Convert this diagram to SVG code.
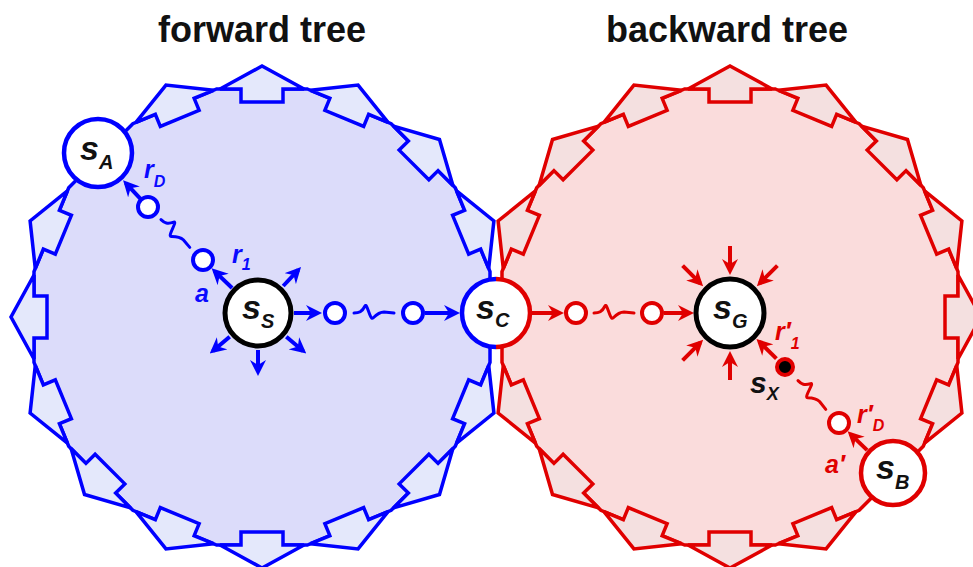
<svg xmlns="http://www.w3.org/2000/svg" xmlns:xlink="http://www.w3.org/1999/xlink" width="973" height="567" viewBox="0 0 973 567">
<defs>
<style>
.t{font-family:"Liberation Sans",Arial,sans-serif;font-weight:bold;font-size:36px;fill:#111;text-anchor:middle}
.nl{font-family:"Liberation Sans",Arial,sans-serif;font-weight:bold;font-style:italic;font-size:34px;fill:#111}
.ns{font-size:20px}
.bl{font-family:"Liberation Sans",Arial,sans-serif;font-weight:bold;font-style:italic;font-size:25px;fill:#0a0aff}
.rl{font-family:"Liberation Sans",Arial,sans-serif;font-weight:bold;font-style:italic;font-size:25px;fill:#e00000}
.sub{font-size:16px}
.bpoly{fill:#dcdcfa;stroke:#0000ff;stroke-width:3.5}
.rpoly{fill:#fadcdc;stroke:#e00000;stroke-width:3.5}
.barr{fill:#e4e8fb;stroke:#0000ff;stroke-width:3.5}
.rarr{fill:#f4e0e0;stroke:#e00000;stroke-width:3.5}
.bc{fill:none;stroke:#0000ff;stroke-width:4;marker-end:url(#mb)}
.rc{fill:none;stroke:#e00000;stroke-width:4;marker-end:url(#mr)}
.bs{fill:none;stroke:#0000ff;stroke-width:3;stroke-linecap:round;stroke-linejoin:round}
.rs{fill:none;stroke:#e00000;stroke-width:3;stroke-linecap:round;stroke-linejoin:round}
.cb{fill:#fff;stroke:#0000ff;stroke-width:4}
.cr{fill:#fff;stroke:#e00000;stroke-width:4}
.big-b{fill:#fff;stroke:#0000ff;stroke-width:4.5}
.big-r{fill:#fff;stroke:#e00000;stroke-width:4.5}
.big-k{fill:#fff;stroke:#000;stroke-width:5}
</style>
<polygon id="ar" points="-42,-228 0,-251 42,-228 21,-228 21,-215 -21,-215 -21,-228"/>
<path id="sq" d="M0,0 C5,0 8,-1 11,-7 C13,-11 16,8 19,5 C22,2 25,-1 30,-1 L40,0"/>
<marker id="mb" viewBox="0 0 16 16" markerWidth="16" markerHeight="16" refX="12" refY="8" orient="auto" markerUnits="userSpaceOnUse"><path d="M0,0 L16,8 L0,16 L5,8 z" fill="#0000ff"/></marker>
<marker id="mr" viewBox="0 0 16 16" markerWidth="16" markerHeight="16" refX="12" refY="8" orient="auto" markerUnits="userSpaceOnUse"><path d="M0,0 L16,8 L0,16 L5,8 z" fill="#e00000"/></marker>
</defs>

<text class="t" x="262" y="42">forward tree</text>
<text class="t" x="727" y="42">backward tree</text>

<g id="forward-region" transform="translate(262,317)">
<polygon class="bpoly" points="45.35,-228 129.15,-193.29 193.29,-129.15 228,-45.35 228,45.35 193.29,129.15 129.15,193.29 45.35,228 -45.35,228 -129.15,193.29 -193.29,129.15 -228,45.35 -228,-45.35 -193.29,-129.15 -129.15,-193.29 -45.35,-228"/>
<g class="barr">
<use href="#ar"/>
<use href="#ar" transform="rotate(22.5)"/>
<use href="#ar" transform="rotate(45)"/>
<use href="#ar" transform="rotate(67.5)"/>
<use href="#ar" transform="rotate(112.5)"/>
<use href="#ar" transform="rotate(135)"/>
<use href="#ar" transform="rotate(157.5)"/>
<use href="#ar" transform="rotate(180)"/>
<use href="#ar" transform="rotate(202.5)"/>
<use href="#ar" transform="rotate(225)"/>
<use href="#ar" transform="rotate(247.5)"/>
<use href="#ar" transform="rotate(270)"/>
<use href="#ar" transform="rotate(292.5)"/>
<use href="#ar" transform="rotate(337.5)"/>
</g>
</g>

<g id="backward-region" transform="translate(730,317)">
<polygon class="rpoly" points="45.35,-228 129.15,-193.29 193.29,-129.15 228,-45.35 228,45.35 193.29,129.15 129.15,193.29 45.35,228 -45.35,228 -129.15,193.29 -193.29,129.15 -228,45.35 -228,-45.35 -193.29,-129.15 -129.15,-193.29 -45.35,-228"/>
<g class="rarr">
<use href="#ar"/>
<use href="#ar" transform="rotate(22.5)"/>
<use href="#ar" transform="rotate(45)"/>
<use href="#ar" transform="rotate(67.5)"/>
<use href="#ar" transform="rotate(90)"/>
<use href="#ar" transform="rotate(112.5)"/>
<use href="#ar" transform="rotate(157.5)"/>
<use href="#ar" transform="rotate(180)"/>
<use href="#ar" transform="rotate(202.5)"/>
<use href="#ar" transform="rotate(225)"/>
<use href="#ar" transform="rotate(247.5)"/>
<use href="#ar" transform="rotate(292.5)"/>
<use href="#ar" transform="rotate(315)"/>
<use href="#ar" transform="rotate(337.5)"/>
</g>
</g>

<g id="connectors">
<line class="bc" x1="232.1" y1="288" x2="214.5" y2="271.1"/>
<line class="bc" x1="140.5" y1="198.9" x2="125.8" y2="183.1"/>
<line class="bc" x1="294" y1="313" x2="318" y2="313"/>
<line class="bc" x1="425" y1="313" x2="456" y2="313"/>
<line class="bc" x1="283.2" y1="286" x2="298.3" y2="269.9"/>
<line class="bc" x1="286.3" y1="336.8" x2="303.2" y2="351"/>
<line class="bc" x1="258" y1="350" x2="258" y2="372"/>
<line class="bc" x1="229.7" y1="336.8" x2="212.8" y2="351"/>
<use class="bs" href="#sq" transform="translate(354,313)"/>
<use class="bs" href="#sq" transform="translate(161,219.6) rotate(44)"/>

<line class="rc" x1="532" y1="313" x2="560" y2="313"/>
<line class="rc" x1="664" y1="313" x2="690" y2="313"/>
<line class="rc" x1="730" y1="246" x2="730" y2="271"/>
<line class="rc" x1="682.6" y1="265.6" x2="700.3" y2="283.3"/>
<line class="rc" x1="777.4" y1="265.6" x2="759.7" y2="283.3"/>
<line class="rc" x1="682.6" y1="360.4" x2="700.3" y2="342.7"/>
<line class="rc" x1="730" y1="380" x2="730" y2="355"/>
<line class="rc" x1="776.4" y1="358.6" x2="759.3" y2="341.7"/>
<line class="rc" x1="867.1" y1="450.1" x2="850.5" y2="434.1"/>
<use class="rs" href="#sq" transform="translate(594,313)"/>
<use class="rs" href="#sq" transform="translate(798,380.6) rotate(46)"/>
</g>

<g id="node-sA"><circle class="big-b" cx="98" cy="153" r="34"/><text class="nl" x="80" y="160">s<tspan class="ns" dy="9">A</tspan></text></g>
<g id="node-sS"><circle class="big-k" cx="258" cy="313" r="33"/><text class="nl" x="242" y="319">s<tspan class="ns" dy="9">S</tspan></text></g>
<g id="node-sC"><circle cx="496" cy="313" r="34" fill="#fff"/><path d="M496,279 A34,34 0 0 0 496,347" fill="none" stroke="#0000ff" stroke-width="4.5"/><path d="M496,279 A34,34 0 0 1 496,347" fill="none" stroke="#e00000" stroke-width="4.5"/><text class="nl" x="476" y="319">s<tspan class="ns" dy="8">C</tspan></text></g>
<g id="node-sG"><circle class="big-k" cx="730" cy="313" r="34"/><text class="nl" x="713" y="319">s<tspan class="ns" dy="9">G</tspan></text></g>
<g id="node-sB"><circle class="big-r" cx="893" cy="473" r="32"/><text class="nl" x="876" y="479">s<tspan class="ns" dy="10">B</tspan></text></g>
<g id="node-sX"><circle cx="785" cy="367" r="8" fill="#000" stroke="#e00000" stroke-width="4"/><text class="nl" x="750" y="393" style="font-size:30px">s<tspan class="ns" dy="7" style="font-size:18px">X</tspan></text></g>
<g id="node-b1"><circle class="cb" cx="148" cy="207" r="10"/></g>
<g id="node-b2"><circle class="cb" cx="203" cy="260" r="10"/></g>
<g id="node-b3"><circle class="cb" cx="335" cy="313" r="10"/></g>
<g id="node-b4"><circle class="cb" cx="413" cy="313" r="10"/></g>
<g id="node-r1"><circle class="cr" cx="576" cy="313" r="10"/></g>
<g id="node-r2"><circle class="cr" cx="652" cy="313" r="10"/></g>
<g id="node-r3"><circle class="cr" cx="839" cy="423" r="10"/></g>

<g id="labels">
<text class="bl" x="144" y="178">r<tspan class="sub" dy="9">D</tspan></text>
<text class="bl" x="232" y="263">r<tspan class="sub" dy="7">1</tspan></text>
<text class="bl" x="195" y="302">a</text>
<text class="rl" x="775" y="340">r′<tspan class="sub" dy="9">1</tspan></text>
<text class="rl" x="857" y="423">r′<tspan class="sub" dy="8">D</tspan></text>
<text class="rl" x="825" y="473">a′</text>
</g>
</svg>
